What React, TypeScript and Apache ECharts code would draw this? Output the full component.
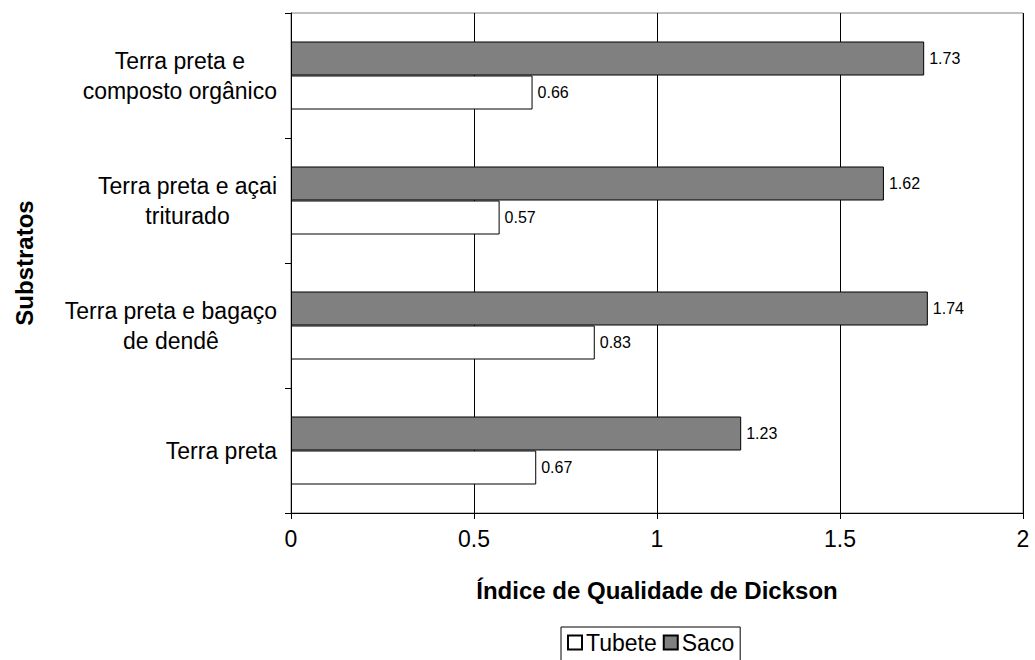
import React, { useEffect, useRef } from "react";
import * as echarts from "echarts";

// Substrates, listed from the bottom of the axis to the top
const categories = [
  "Terra preta",
  "Terra preta e bagaço\nde dendê",
  "Terra preta e açai\ntriturado",
  "Terra preta e\ncomposto orgânico",
];
const tubete = [0.67, 0.83, 0.57, 0.66];
const saco = [1.23, 1.74, 1.62, 1.73];
const legendNames = ["Tubete", "Saco"];

const FONT = "'Liberation Sans', Arial, Helvetica, sans-serif";

export default function App() {
  const ref = useRef<HTMLDivElement>(null);

  useEffect(() => {
    if (!ref.current) return;
    const chart = echarts.init(ref.current, undefined, { renderer: "svg" });

    const valueLabel = {
      show: true,
      position: "right" as const,
      distance: 5,
      fontSize: 16,
      color: "#000",
      fontFamily: FONT,
      formatter: (p: any) => p.value.toFixed(2),
    };

    chart.setOption({
      animation: false,
      backgroundColor: "#ffffff",
      textStyle: { fontFamily: FONT, color: "#000" },
      grid: {
        left: 291,
        right: 12,
        top: 13,
        bottom: 147,
        show: true,
        borderColor: "#808080",
        borderWidth: 1,
      },
      legend: {
        data: legendNames,
        left: 561,
        top: 627,
        orient: "horizontal",
        icon: "rect",
        itemWidth: 14,
        itemHeight: 14,
        itemGap: 6,
        padding: [4, 6, 8, 6],
        borderColor: "#000",
        borderWidth: 1,
        textStyle: { fontSize: 23, color: "#000", fontFamily: FONT, padding: [0, 0, 0, -1] },
      },
      xAxis: {
        type: "value",
        min: 0,
        max: 2,
        interval: 0.5,
        name: "Índice de Qualidade de Dickson",
        nameLocation: "middle",
        nameGap: 65,
        nameTextStyle: { fontSize: 24, fontWeight: "bold", color: "#000", fontFamily: FONT },
        axisLine: { show: true, lineStyle: { color: "#000", width: 1 } },
        axisTick: { show: true, length: 6, lineStyle: { color: "#000" } },
        axisLabel: {
          fontSize: 23,
          color: "#000",
          margin: 14,
          fontFamily: FONT,
          formatter: (v: number) => String(v),
        },
        splitLine: { show: true, lineStyle: { color: "#000", width: 1 } },
      },
      yAxis: {
        type: "category",
        data: categories,
        name: "Substratos",
        nameLocation: "middle",
        nameRotate: 90,
        nameGap: 255,
        nameTextStyle: { fontSize: 24, fontWeight: "bold", color: "#000", fontFamily: FONT },
        axisLine: { show: true, lineStyle: { color: "#000", width: 1 } },
        axisTick: { show: true, length: 6, lineStyle: { color: "#000" } },
        axisLabel: {
          margin: 14,
          fontSize: 23,
          color: "#000",
          lineHeight: 30,
          fontFamily: FONT,
          formatter: (v: string) =>
            v
              .split("\n")
              .map((line) => `{c|${line}}`)
              .join("\n"),
          rich: {
            c: { align: "center", fontSize: 23, lineHeight: 30, fontFamily: FONT, color: "#000" },
          },
        },
        splitLine: { show: false },
      },
      // Saco is listed first so that it sits above Tubete inside each band
      series: [
        {
          name: "Saco",
          type: "bar",
          data: saco,
          barWidth: 34,
          barGap: "0%",
          itemStyle: { color: "#808080", borderColor: "#000", borderWidth: 1 },
          label: valueLabel,
        },
        {
          name: "Tubete",
          type: "bar",
          data: tubete,
          barWidth: 34,
          barGap: "0%",
          itemStyle: { color: "#ffffff", borderColor: "#000", borderWidth: 1 },
          label: valueLabel,
        },
      ],
    });

    return () => chart.dispose();
  }, []);

  return (
    <div
      ref={ref}
      style={{ position: "fixed", left: 0, top: 0, width: 1035, height: 660, background: "#fff" }}
    />
  );
}
